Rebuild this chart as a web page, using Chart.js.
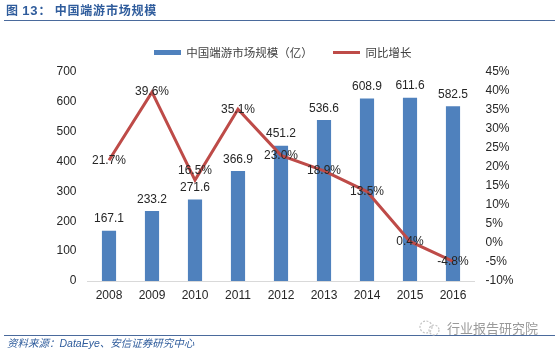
<!DOCTYPE html>
<html>
<head>
<meta charset="utf-8">
<script src="https://cdn.jsdelivr.net/npm/chart.js@4"></script>
<style>
    body { margin: 0; background: #fff; width: 555px; height: 352px; overflow: hidden; position: relative; }
    canvas { position: absolute; left: 0; top: 0; }
    .txt { position: absolute; white-space: nowrap; font-family: "Noto Sans CJK SC", sans-serif; }
    #titulo { left: 6px; top: 1px; font-size: 12px; line-height: 18px; font-weight: bold; color: #2f5c9c; letter-spacing: 0.8px; }
    #titulo b { font-family: "Liberation Sans"; font-size: 13px; }
    #fuente { left: 7px; top: 337px; font-size: 10.5px; line-height: 12px; font-style: italic; color: #2f5c9c; }
    #fuente span { font-family: "Liberation Sans"; }
    #marca { left: 447px; top: 319px; font-size: 13px; line-height: 18px; color: #9a9a9a; }
    #icono { position: absolute; left: 418px; top: 319px; }
    .linea { position: absolute; left: 4px; right: 0; height: 1px; background: #4a6a9c; }
</style>
</head>
<body>
<canvas id="grafico" width="555" height="352"></canvas>
<div class="txt" id="titulo">图 <b>13</b>：&nbsp;中国端游市场规模</div>
<div class="linea" style="top:20px"></div>
<div class="linea" style="top:335px"></div>
<div class="txt" id="fuente">资料来源：<span>DataEye</span>、安信证券研究中心</div>
<svg id="icono" width="24" height="18" fill="none" stroke="#c4c4c4" stroke-width="1.2" stroke-dasharray="2 1.5">
    <circle cx="8" cy="8" r="6"></circle>
    <circle cx="16" cy="11" r="5"></circle>
</svg>
<div class="txt" id="marca">行业报告研究院</div>
<script>
const categorias = ["2008", "2009", "2010", "2011", "2012", "2013", "2014", "2015", "2016"];
const mercado = [167.1, 233.2, 271.6, 366.9, 451.2, 536.6, 608.9, 611.6, 582.5];
const crecimiento = [21.7, 39.6, 16.5, 35.1, 23.0, 18.9, 13.5, 0.4, -4.8];
const nombreBarras = "中国端游市场规模（亿）";
const nombreLinea = "同比增长";

const colorBarra = "#4f81bd";
const colorLinea = "#be4b48";
const colorTexto = "#262626";

// muestras de la leyenda: barra mas gruesa que la linea
function muestra(color, alto) {
    const c = document.createElement("canvas");
    c.width = 27;
    c.height = alto;
    const g = c.getContext("2d");
    g.fillStyle = color;
    g.fillRect(0, 0, 27, alto);
    return c;
}

// un poco mas de aire debajo de la leyenda
const aireLeyenda = {
    id: "aireLeyenda",
    beforeInit(chart) {
        const fit = chart.legend.fit;
        chart.legend.fit = function () {
            fit.bind(chart.legend)();
            this.height += 3;
        };
    }
};

// etiquetas de datos
const etiquetas = {
    id: "etiquetas",
    afterDatasetsDraw(chart) {
        const ctx = chart.ctx;
        ctx.save();
        ctx.font = "12px 'Liberation Sans'";
        ctx.fillStyle = colorTexto;
        ctx.textAlign = "center";
        ctx.textBaseline = "middle";
        chart.getDatasetMeta(0).data.forEach((el, i) => {
            ctx.fillText(mercado[i].toFixed(1), el.x, el.y - 12);
        });
        chart.getDatasetMeta(1).data.forEach((el, i) => {
            // 2010 va por encima del punto, como en el original
            const dy = i === 2 ? -9 : 0;
            ctx.fillText(crecimiento[i].toFixed(1) + "%", el.x, el.y + dy);
        });
        ctx.restore();
    }
};

new Chart(document.getElementById("grafico").getContext("2d"), {
    data: {
        labels: categorias,
        datasets: [
            {
                type: "bar",
                label: nombreBarras,
                data: mercado,
                backgroundColor: colorBarra,
                barThickness: 13.5,
                yAxisID: "y",
                order: 2
            },
            {
                type: "line",
                label: nombreLinea,
                data: crecimiento,
                borderColor: colorLinea,
                borderWidth: 3,
                pointRadius: 0,
                tension: 0,
                yAxisID: "y1",
                order: 1
            }
        ]
    },
    options: {
        responsive: false,
        animation: false,
        layout: { padding: { left: 10, right: 0, top: 27, bottom: 50.5 } },
        plugins: {
            tooltip: { enabled: false },
            legend: {
                position: "top",
                labels: {
                    usePointStyle: true,
                    pointStyleWidth: 27,
                    boxHeight: 6,
                    padding: 20,
                    color: "#404040",
                    font: { family: "'Noto Sans CJK SC'", size: 11.5 },
                    generateLabels: () => [
                        { text: nombreBarras, pointStyle: muestra(colorBarra, 5), fontColor: "#404040", datasetIndex: 0 },
                        { text: nombreLinea, pointStyle: muestra(colorLinea, 3), fontColor: "#404040", datasetIndex: 1 }
                    ]
                }
            }
        },
        scales: {
            x: {
                grid: { display: false },
                border: { color: "#d9d9d9", width: 1 },
                ticks: { color: colorTexto, padding: -1, maxRotation: 0, font: { family: "'Liberation Sans'", size: 12 } }
            },
            y: {
                position: "left",
                min: 0,
                max: 700,
                grid: { display: false },
                border: { display: false },
                afterFit: s => { s.width = 77.5; },
                ticks: { stepSize: 100, color: colorTexto, padding: 3, font: { family: "'Liberation Sans'", size: 12 } }
            },
            y1: {
                position: "right",
                min: -10,
                max: 45,
                grid: { display: false },
                border: { display: false },
                afterFit: s => { s.width = 80.5; },
                ticks: {
                    stepSize: 5,
                    autoSkip: false,
                    color: colorTexto,
                    padding: 3,
                    font: { family: "'Liberation Sans'", size: 12 },
                    callback: v => v + "%"
                }
            }
        }
    },
    plugins: [aireLeyenda, etiquetas]
});
</script>
</body>
</html>
